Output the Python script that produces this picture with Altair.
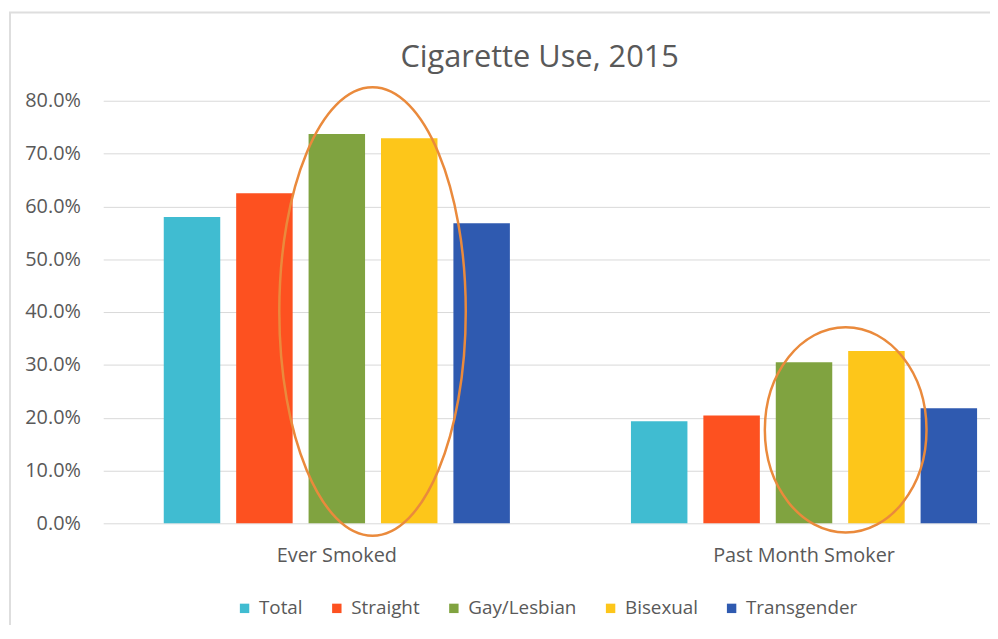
import altair as alt
import pandas as pd

# ---- data ----
groups = ["Ever Smoked", "Past Month Smoker"]
series = ["Total", "Straight", "Gay/Lesbian", "Bisexual", "Transgender"]
ever_smoked = [58.0, 62.5, 73.7, 72.9, 56.8]      # percent
past_month = [19.3, 20.4, 30.5, 32.6, 21.8]       # percent
colors = ["#40bcd1", "#fd5120", "#80a340", "#fdc61a", "#2f5ab0"]
y_ticks = [0.0, 0.1, 0.2, 0.3, 0.4, 0.5, 0.6, 0.7, 0.8]

# highlighted (circled) groups: vertical centre of each ellipse, percent
highlight_groups = ["Ever Smoked", "Past Month Smoker"]
highlight_center = [40.1, 17.7]

rows = []
for g, vals in zip(groups, [ever_smoked, past_month]):
    for s, v in zip(series, vals):
        rows.append({"group": g, "series": s, "share": v / 100.0})
df = pd.DataFrame(rows)
ell_df = pd.DataFrame({"group": highlight_groups,
                       "share": [c / 100.0 for c in highlight_center]})
frame_df = pd.DataFrame({"k": [0]})

FONT = "Open Sans"
GREY = "#595959"
ELL = "#ea8a3c"


def ellipse_path(rx, cx):
    """Unit-height ellipse (ry = 1) drawn with cubic Beziers, shifted by cx."""
    k = 0.5523
    ry = 1.0
    f = lambda v: f"{v:.4f}"
    return (f"M {f(cx - rx)},0 "
            f"C {f(cx - rx)},{f(-k * ry)} {f(cx - k * rx)},{f(-ry)} {f(cx)},{f(-ry)} "
            f"C {f(cx + k * rx)},{f(-ry)} {f(cx + rx)},{f(-k * ry)} {f(cx + rx)},0 "
            f"C {f(cx + rx)},{f(k * ry)} {f(cx + k * rx)},{f(ry)} {f(cx)},{f(ry)} "
            f"C {f(cx - k * rx)},{f(ry)} {f(cx - rx)},{f(k * ry)} {f(cx - rx)},0 Z")


x_enc = alt.X("group:N", sort=groups,
              scale=alt.Scale(range=[0, 942], paddingInner=0, paddingOuter=0),
              axis=alt.Axis(title=None, labelAngle=0, ticks=False, domain=False,
                            labelFont=FONT, labelFontSize=20, labelColor=GREY,
                            labelPadding=22, labelLimit=400, grid=False))
y_enc = alt.Y("share:Q", scale=alt.Scale(domain=[0, 0.8]),
              axis=alt.Axis(title=None, format=".1%", values=y_ticks, ticks=False,
                            domain=False, labelFont=FONT, labelFontSize=20,
                            labelColor=GREY, labelPadding=23,
                            gridColor="#d9d9d9", gridWidth=1))

bars = alt.Chart(df).mark_bar().encode(
    x=x_enc,
    y=y_enc,
    xOffset=alt.XOffset("series:N", sort=series,
                        scale=alt.Scale(paddingInner=0.22, paddingOuter=0.836)),
    color=alt.Color("series:N", sort=series,
                    scale=alt.Scale(domain=series, range=colors),
                    legend=alt.Legend(title=None, orient="none", legendX=133,
                                      legendY=502, direction="horizontal",
                                      symbolType="square", symbolSize=90,
                                      symbolStrokeWidth=0, labelFont=FONT,
                                      labelFontSize=19, labelColor=GREY,
                                      labelOffset=5, columnPadding=24,
                                      padding=0)),
)

# ellipse 1: 188 x 452 px, ellipse 2: 163 x 207 px (half-height = sqrt(size)/2)
ell1 = alt.Chart(ell_df).transform_filter(alt.datum.group == "Ever Smoked").mark_point(
    shape=ellipse_path(94 / 226, 36 / 226), size=452 * 452, filled=False,
    color=ELL, strokeWidth=2.5, opacity=1).encode(
    x=alt.X("group:N", sort=groups, title=None),
    y=alt.Y("share:Q", title=None))
ell2 = alt.Chart(ell_df).transform_filter(alt.datum.group == "Past Month Smoker").mark_point(
    shape=ellipse_path(81.5 / 103.5, 42 / 103.5), size=207 * 207, filled=False,
    color=ELL, strokeWidth=2.5, opacity=1).encode(
    x=alt.X("group:N", sort=groups, title=None),
    y=alt.Y("share:Q", title=None))

frame = alt.Chart(frame_df).mark_rect(fill=None, stroke="#dedede", strokeWidth=2).encode(
    x=alt.value(-94), x2=alt.value(1100), y=alt.value(-89), y2=alt.value(700))

chart = alt.layer(frame, bars, ell1, ell2).properties(
    width=894, height=426,
    title=alt.TitleParams("Cigarette Use, 2015", font=FONT, fontSize=31,
                          fontWeight="normal", color=GREY, anchor="middle",
                          frame="group", dx=-7, offset=-87,
                          baseline="alphabetic"),
    autosize=alt.AutoSizeParams(type="none"),
    padding={"left": 96, "top": 91, "right": 0, "bottom": 100},
    background="white",
).configure_view(stroke=None)

chart.save("out.html", embed_options={"renderer": "svg", "actions": False})
